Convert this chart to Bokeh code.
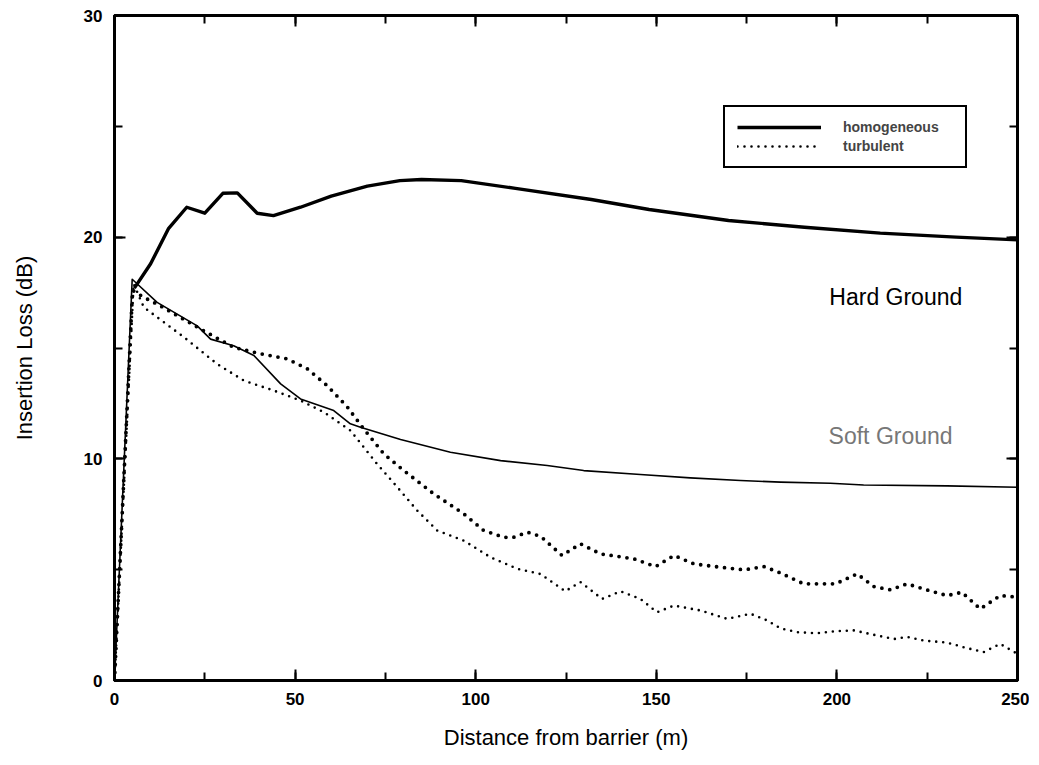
from bokeh.plotting import figure
from bokeh.models import (Legend, LegendItem, LinearAxis, SingleIntervalTicker,
                          Range1d, Label)
from bokeh.embed import file_html
from bokeh.resources import INLINE

# ---------------- data ----------------
hard_homog_x = [5.5, 10, 15, 20, 25, 30, 34, 39.5, 44, 51.5, 60, 70, 79, 85, 96,
                111, 132, 148, 170, 191, 212, 233, 250]
hard_homog_y = [17.7, 18.8, 20.4, 21.35, 21.08, 21.98, 22.0, 21.08, 20.97, 21.35,
                21.85, 22.3, 22.55, 22.6, 22.55, 22.2, 21.7, 21.25, 20.75, 20.45,
                20.18, 20.0, 19.88]

soft_homog_x = [0, 4.9, 11.8, 22.9, 26.6, 33, 38.6, 46, 51.5, 60.7, 65.3, 68.1, 79.2,
                93, 106.9, 119.8, 129.9, 145.6, 159.4, 173.3, 184.4, 198.2, 207.4,
                230.5, 250]
soft_homog_y = [0, 18.1, 17.06, 16.0, 15.4, 15.1, 14.66, 13.38, 12.7, 12.18, 11.58,
                11.43, 10.87, 10.3, 9.92, 9.7, 9.47, 9.29, 9.14, 9.02, 8.95, 8.9,
                8.82, 8.78, 8.72]

turb_a_x = [0, 5, 8.1, 12.7, 23.8, 33, 40.4, 47.8, 53.4, 58.9, 64.4, 69, 74.6, 80.1,
            88.4, 96.7, 102.2, 107.8, 110.5, 114.3, 118, 123.9, 129, 134.6, 143.8,
            149.8, 154.9, 160.4, 167.8, 174.3, 179.8, 184.4, 190.8, 199.6, 205.6,
            210.2, 214.8, 219.4, 224, 230.5, 234.6, 239.7, 245.2, 250]
turb_a_y = [0, 17.6, 17.29, 16.9, 15.86, 15.03, 14.74, 14.51, 14.06, 13.3, 12.35,
            11.35, 10.22, 9.47, 8.42, 7.52, 6.77, 6.46, 6.46, 6.69, 6.5, 5.64, 6.17,
            5.71, 5.49, 5.14, 5.64, 5.26, 5.11, 4.99, 5.14, 4.85, 4.36, 4.36, 4.81,
            4.24, 4.09, 4.36, 4.13, 3.83, 3.98, 3.23, 3.83, 3.76]

turb_b_x = [0, 5.3, 8.1, 19.2, 28.4, 35.8, 44.1, 51.5, 58, 65.3, 72.7, 78.3, 83.8,
            89.3, 96.7, 104.1, 111.5, 118, 124.8, 129, 135, 140.1, 145.6, 150.2,
            154.9, 162.2, 169.6, 176.1, 180.7, 184.4, 189, 194.5, 199.2, 204.7,
            211.1, 215.8, 219.4, 224, 230.5, 235.1, 240.6, 245.2, 250]
turb_b_y = [0, 17.9, 16.84, 15.49, 14.28, 13.53, 13.08, 12.63, 12.1, 11.28, 9.77,
            8.72, 7.67, 6.77, 6.31, 5.56, 5.04, 4.8, 4.03, 4.44, 3.68, 4.02, 3.68,
            3.08, 3.38, 3.16, 2.78, 3.01, 2.71, 2.35, 2.18, 2.13, 2.22, 2.26, 2.03,
            1.87, 1.97, 1.80, 1.71, 1.50, 1.28, 1.65, 1.20]

legend_labels = ["homogeneous", "turbulent"]
x_title = "Distance from barrier (m)"
y_title = "Insertion Loss (dB)"

FONT = "Liberation Sans"

p = figure(frame_width=903, frame_height=665,
           x_range=Range1d(0, 250), y_range=Range1d(0, 30),
           output_backend="svg", toolbar_location=None,
           x_axis_location=None, y_axis_location=None,
           min_border_left=114, min_border_top=15, min_border_right=12,
           min_border_bottom=60)
p.xgrid.visible = False
p.ygrid.visible = False
p.outline_line_color = "black"
p.outline_line_width = 3
p.background_fill_color = "white"
p.border_fill_color = "white"


def style_axis(ax, labels=True):
    ax.axis_line_width = 3
    ax.axis_line_color = "black"
    ax.major_tick_in = 11
    ax.major_tick_out = 0
    ax.minor_tick_in = 8
    ax.minor_tick_out = 0
    ax.major_tick_line_width = 2
    ax.minor_tick_line_width = 2
    ax.major_label_text_font = FONT
    ax.major_label_text_font_style = "bold"
    ax.major_label_text_font_size = "17px"
    ax.major_label_text_color = "black"
    ax.axis_label_text_font = FONT
    ax.axis_label_text_font_style = "normal"
    ax.axis_label_text_font_size = "22px"
    ax.axis_label_text_color = "black"
    if not labels:
        ax.major_label_text_font_size = "1px"
        ax.major_label_text_color = None
        ax.major_label_standoff = 0


xb = LinearAxis(ticker=SingleIntervalTicker(interval=50, num_minor_ticks=2),
                axis_label=x_title)
style_axis(xb)
xb.major_label_standoff = 12
xb.axis_label_standoff = 17
p.add_layout(xb, "below")

xt = LinearAxis(ticker=SingleIntervalTicker(interval=50, num_minor_ticks=2))
style_axis(xt, labels=False)
p.add_layout(xt, "above")

yl = LinearAxis(ticker=SingleIntervalTicker(interval=10, num_minor_ticks=2),
                axis_label=y_title)
style_axis(yl)
yl.major_label_standoff = 12
yl.axis_label_standoff = 44
p.add_layout(yl, "left")

yr = LinearAxis(ticker=SingleIntervalTicker(interval=10, num_minor_ticks=2))
style_axis(yr, labels=False)
p.add_layout(yr, "right")

r_hard = p.line(hard_homog_x, hard_homog_y, line_color="black", line_width=3.4,
                line_join="round")
r_soft = p.line(soft_homog_x, soft_homog_y, line_color="black", line_width=1.6,
                line_join="round")
r_ta = p.line(turb_a_x, turb_a_y, line_color="black", line_width=3.8,
              line_dash="0 8", line_cap="round")
r_tb = p.line(turb_b_x, turb_b_y, line_color="black", line_width=2.6,
              line_dash="0 7", line_cap="round")

legend = Legend(items=[LegendItem(label=legend_labels[0], renderers=[r_hard]),
                       LegendItem(label=legend_labels[1], renderers=[r_tb])],
                location=(609, 512))
legend.border_line_color = "black"
legend.border_line_alpha = 1.0
legend.border_line_width = 2
legend.background_fill_color = "white"
legend.background_fill_alpha = 1
legend.label_text_font = FONT
legend.label_text_font_style = "bold"
legend.label_text_font_size = "14px"
legend.glyph_width = 84
legend.glyph_height = 16
legend.label_height = 16
legend.label_width = 110
legend.label_standoff = 22
legend.padding = 12
legend.spacing = 3
legend.margin = 0
p.add_layout(legend)

p.add_layout(Label(x=197.9, y=17.29, text="Hard Ground", text_baseline="middle",
                   text_font=FONT, text_font_size="23px", text_color="black"))
p.add_layout(Label(x=197.7, y=11.05, text="Soft Ground", text_baseline="middle",
                   text_font=FONT, text_font_size="23px", text_color="#777777"))

open("out.html", "w").write(file_html(p, INLINE))
